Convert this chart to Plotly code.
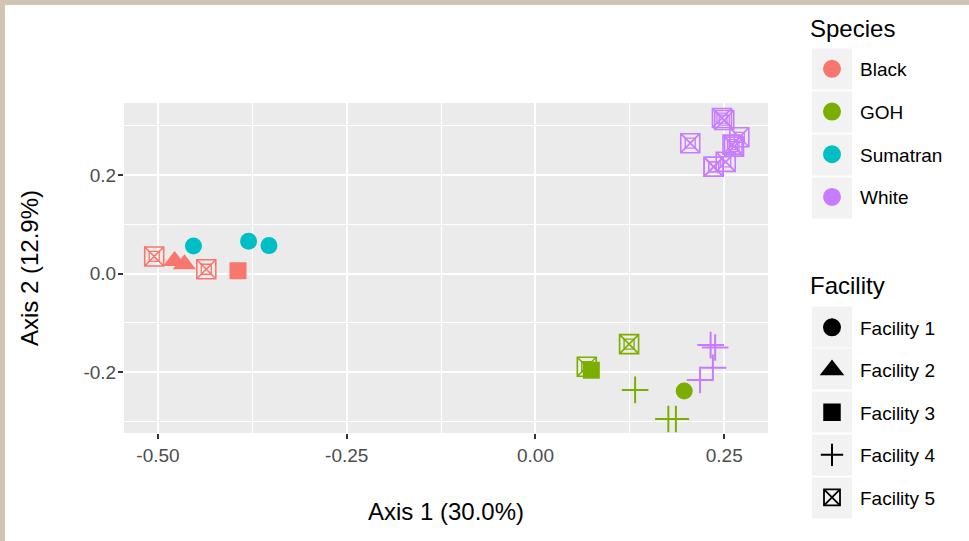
import plotly.graph_objects as go

# ---------------- data ----------------
species_names = ["Black", "GOH", "Sumatran", "White"]
species_colors = ["#F8766D", "#7CAE00", "#00BFC4", "#C77CFF"]
facility_names = ["Facility 1", "Facility 2", "Facility 3", "Facility 4", "Facility 5"]

point_species = (["Black"] * 5 + ["Sumatran"] * 3 + ["GOH"] * 7 + ["White"] * 13)
point_facility = [
    "Facility 5", "Facility 2", "Facility 2", "Facility 5", "Facility 3",
    "Facility 1", "Facility 1", "Facility 1",
    "Facility 5", "Facility 3", "Facility 5", "Facility 4", "Facility 1", "Facility 4", "Facility 4",
    "Facility 4", "Facility 4", "Facility 4", "Facility 4",
    "Facility 5", "Facility 5", "Facility 5", "Facility 5", "Facility 5", "Facility 5",
    "Facility 5", "Facility 5", "Facility 5",
]
axis1 = [
    -0.505, -0.478, -0.465, -0.436, -0.394,
    -0.453, -0.380, -0.353,
    0.068, 0.074, 0.124, 0.132, 0.197, 0.176, 0.186,
    0.218, 0.235, 0.232, 0.238,
    0.205, 0.247, 0.250, 0.270, 0.261, 0.263, 0.252, 0.236, 0.236,
]
axis2 = [
    0.035, 0.026, 0.019, 0.009, 0.006,
    0.056, 0.066, 0.057,
    -0.189, -0.196, -0.143, -0.236, -0.238, -0.295, -0.295,
    -0.216, -0.191, -0.145, -0.150,
    0.265, 0.316, 0.312, 0.277, 0.262, 0.258, 0.227, 0.217, 0.217,
]
x_tick_vals = [-0.50, -0.25, 0.00, 0.25]
x_tick_text = ["-0.50", "-0.25", "0.00", "0.25"]
y_tick_vals = [-0.2, 0.0, 0.2]
y_tick_text = ["-0.2", "0.0", "0.2"]
x_title = "Axis 1 (30.0%)"
y_title = "Axis 2 (12.9%)"
legend1_title = "Species"
legend2_title = "Facility"

# ---------------- styles ----------------
W, H = 969, 541
ML, MR, MT, MB = 124, 201, 103, 108
PW, PH = W - ML - MR, H - MT - MB
FONT = "Liberation Sans, Arial, Helvetica, sans-serif"

sym = {
    "Facility 1": dict(symbol="circle", size=17, line=0, lg_line=2),
    "Facility 2": dict(symbol="triangle-up", size=20, line=0, lg_line=3),
    "Facility 3": dict(symbol="square", size=17, line=0, lg_line=1.5),
    "Facility 4": dict(symbol="cross-thin-open", size=19, line=2, lg_line=2),
    "Facility 5": dict(symbol="square-x-open", size=19, line=1.6, lg_line=1.8),
}
col = dict(zip(species_names, species_colors))


def px_x(px):
    return (px - ML) / PW


def px_y(py):
    return (MT + PH - py) / PH


fig = go.Figure()

for fac in facility_names:
    for sp in species_names:
        idx = [i for i in range(len(axis1)) if point_species[i] == sp and point_facility[i] == fac]
        if not idx:
            continue
        xs = [axis1[i] for i in idx]
        ys = [axis2[i] for i in idx]
        s = sym[fac]
        fig.add_trace(go.Scatter(
            x=xs, y=ys, mode="markers", showlegend=False, hoverinfo="skip",
            marker=dict(symbol=s["symbol"], size=s["size"], color=col[sp],
                        line=dict(color=col[sp], width=s["line"])),
        ))
        if fac == "Facility 5":
            fig.add_trace(go.Scatter(
                x=xs, y=ys, mode="markers", showlegend=False, hoverinfo="skip",
                marker=dict(symbol="square-open", size=10, color=col[sp],
                            line=dict(color=col[sp], width=1.3)),
            ))

# legend entries
for k, sp in enumerate(species_names):
    fig.add_trace(go.Scatter(
        x=[None], y=[None], mode="markers", name=sp, legend="legend",
        legendgroup="s%d" % k,
        marker=dict(symbol="circle", size=16, color=col[sp],
                    line=dict(color=col[sp], width=2)),
    ))
for k, fac in enumerate(facility_names):
    s = sym[fac]
    fig.add_trace(go.Scatter(
        x=[None], y=[None], mode="markers", name=fac, legend="legend2",
        legendgroup="f%d" % k,
        marker=dict(symbol=s["symbol"], size=16, color="black",
                    line=dict(color="black", width=s["lg_line"])),
    ))

shapes = []
# photo border strips (top and left)
shapes.append(dict(type="rect", xref="paper", yref="paper", layer="below",
                   x0=px_x(0), x1=px_x(W), y0=px_y(5), y1=px_y(0),
                   fillcolor="#CFC5B2", line=dict(width=0)))
shapes.append(dict(type="rect", xref="paper", yref="paper", layer="below",
                   x0=px_x(0), x1=px_x(5), y0=px_y(H), y1=px_y(0),
                   fillcolor="#CFC5B2", line=dict(width=0)))
# legend key backgrounds
for centers in ([69, 112, 155, 198], [327, 369, 412, 455, 498]):
    for c in centers:
        shapes.append(dict(type="rect", xref="paper", yref="paper", layer="below",
                           x0=px_x(812), x1=px_x(852), y0=px_y(c + 20.5), y1=px_y(c - 20.5),
                           fillcolor="#F2F2F2", line=dict(width=0)))

annotations = [
    dict(text=legend1_title, xref="paper", yref="paper", x=px_x(808), y=px_y(28),
         xanchor="left", yanchor="middle", showarrow=False, font=dict(size=24, color="black")),
    dict(text=legend2_title, xref="paper", yref="paper", x=px_x(808), y=px_y(285),
         xanchor="left", yanchor="middle", showarrow=False, font=dict(size=24, color="black")),
]

axis_common = dict(
    showline=False, zeroline=False, showgrid=True, gridcolor="white", gridwidth=2,
    ticks="outside", ticklen=5, tickwidth=2, tickcolor="#333333",
    tickfont=dict(size=19, color="#4D4D4D", family=FONT),
    minor=dict(showgrid=True, gridcolor="white", gridwidth=1),
)

fig.update_layout(
    width=W, height=H,
    margin=dict(l=ML, r=MR, t=MT, b=MB, autoexpand=False),
    paper_bgcolor="white", plot_bgcolor="#EBEBEB",
    font=dict(family=FONT, color="black"),
    xaxis=dict(axis_common, range=[-0.545, 0.308], tickvals=x_tick_vals, ticktext=x_tick_text,
               title=dict(text=x_title, font=dict(size=24), standoff=38)),
    yaxis=dict(axis_common, range=[-0.3235, 0.3466], tickvals=y_tick_vals, ticktext=y_tick_text,
               ticklabelstandoff=-2,
               title=dict(text=y_title, font=dict(size=24), standoff=38)),
    legend=dict(x=px_x(804), xanchor="left", y=px_y(50), yanchor="top",
                font=dict(size=19), itemwidth=46, tracegroupgap=15,
                bgcolor="rgba(0,0,0,0)"),
    legend2=dict(x=px_x(804), xanchor="left", y=px_y(308.5), yanchor="top",
                 font=dict(size=19), itemwidth=46, tracegroupgap=14.8,
                 bgcolor="rgba(0,0,0,0)"),
    shapes=shapes,
    annotations=annotations,
)
fig.update_xaxes(minor=dict(tickvals=[-0.375, -0.125, 0.125], ticks=""))
fig.update_yaxes(minor=dict(tickvals=[-0.3, -0.1, 0.1, 0.3], ticks=""))

fig.write_html("out.html")
